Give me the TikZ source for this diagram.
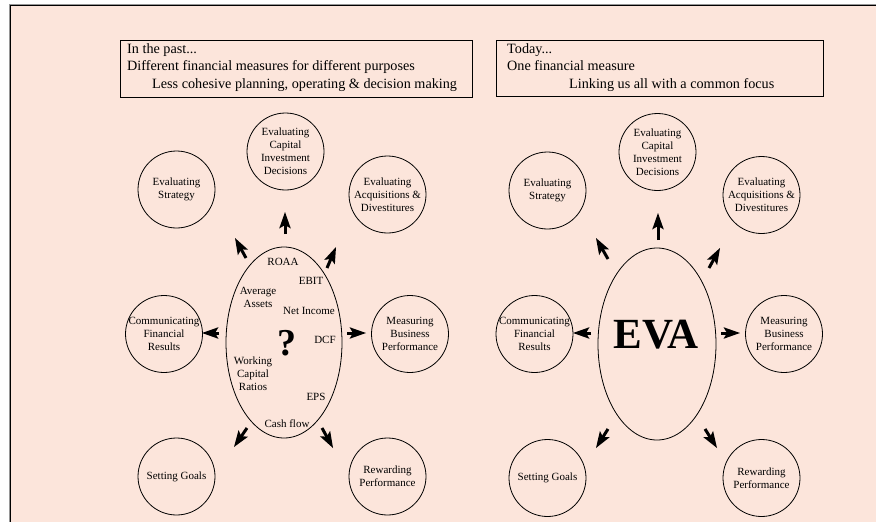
\documentclass[tikz,border=0pt]{standalone}
\usepackage{fontspec}
\setmainfont{Liberation Serif}
\usetikzlibrary{shapes.geometric,calc}
\definecolor{peach}{RGB}{252,229,219}
\definecolor{edgegrey}{RGB}{150,150,150}
\begin{document}
\begin{tikzpicture}[x=1pt,y=-1pt,
  circ/.style={circle,draw,line width=0.8pt,minimum size=77pt,inner sep=0pt},
  lbl/.style={align=center,font=\fontsize{11}{13}\selectfont,inner sep=0pt},
  oval/.style={ellipse,draw,line width=0.8pt,inner sep=0pt},
  hdr/.style={draw,line width=0.8pt,inner sep=0pt},
  hdrtext/.style={align=left,font=\fontsize{14.2}{17.8}\selectfont,inner sep=0pt,anchor=north west},
  shaft/.style={line width=3pt},
]
\useasboundingbox (0,0) rectangle (876,522);
\clip (0,0) rectangle (876,522);

% page frame
\draw[edgegrey,line width=1pt] (9,4) rectangle (900,540);
\fill[peach] (10,5) rectangle (900,540);
\draw[line width=1.2pt] (10.6,5.6) rectangle (900,540);

% ---------- left panel ----------
\draw[edgegrey,line width=1pt] (121.5,97.5) -- (472.5,97.5) -- (472.5,41);
\node[hdr,minimum width=352pt,minimum height=57pt] (pastbox) at (296,68.5) {};
\node[hdrtext] (pasttext) at (127,43)
  {In the past...\\Different financial measures for different purposes\\\hspace*{25pt}Less cohesive planning, operating \& decision making};

\node[oval,minimum width=116pt,minimum height=191pt] (pastoval) at (284,342.5) {};
\node[lbl] (roaa) at (283,262) {ROAA};
\node[lbl] (ebit) at (311,281) {EBIT};
\node[lbl] (avga) at (258,297) {Average\\Assets};
\node[lbl] (neti) at (309,311) {Net Income};
\node[inner sep=0pt,font=\fontsize{38}{38}\selectfont\bfseries] (qmark) at (287,343) {?};
\node[lbl] (dcf) at (325,340) {DCF};
\node[lbl] (wcr) at (253,374) {Working\\Capital\\Ratios};
\node[lbl] (eps) at (316,397) {EPS};
\node[lbl] (cashf) at (287,424) {Cash flow};

\node[circ,label={[lbl]center:Evaluating\\Strategy}] (lstrat) at (176.5,189.5) {};
\node[circ,label={[lbl]center:Evaluating\\Capital\\Investment\\Decisions}] (lcap) at (285.5,151.5) {};
\node[circ,label={[lbl]center:Evaluating\\Acquisitions \&\\Divestitures}] (lacq) at (387.5,194.5) {};
\node[circ,label={[lbl]center:Communicating\\Financial\\Results}] (lcomm) at (164,334) {};
\node[circ,label={[lbl]center:Measuring\\Business\\Performance}] (lmeas) at (410,334) {};
\node[circ,label={[lbl]center:Setting Goals}] (lgoal) at (176.5,476.5) {};
\node[circ,label={[lbl]center:Rewarding\\Performance}] (lrew) at (387.5,476.5) {};

\coordinate (la1) at (285,234); \coordinate (lb1) at (285,212);
\coordinate (la2) at (246,258); \coordinate (lb2) at (235,238);
\coordinate (la3) at (327,268); \coordinate (lb3) at (336,247);
\coordinate (la4) at (219,333); \coordinate (lb4) at (202,333);
\coordinate (la5) at (347,333); \coordinate (lb5) at (366,333);
\coordinate (la6) at (247,428); \coordinate (lb6) at (234,447);
\coordinate (la7) at (322,428); \coordinate (lb7) at (333,448);

% ---------- right panel ----------
\draw[edgegrey,line width=1pt] (497.5,96.5) -- (823.5,96.5) -- (823.5,41);
\node[hdr,minimum width=327pt,minimum height=56pt] (todaybox) at (659.5,68) {};
\node[hdrtext] (todaytext) at (507,43)
  {Today...\\One financial measure\\\hspace*{62pt}Linking us all with a common focus};

\node[oval,minimum width=118pt,minimum height=192pt] (evaoval) at (657,344) {};
\node[inner sep=0pt,font=\fontsize{43}{43}\selectfont\bfseries] (eva) at (656,335) {EVA};

\node[circ,label={[lbl]center:Evaluating\\Strategy}] (rstrat) at (547.5,190.5) {};
\node[circ,label={[lbl]center:Evaluating\\Capital\\Investment\\Decisions}] (rcap) at (657.5,152) {};
\node[circ,label={[lbl]center:Evaluating\\Acquisitions \&\\Divestitures}] (racq) at (761.5,195) {};
\node[circ,label={[lbl]center:Communicating\\Financial\\Results}] (rcomm) at (534.5,334) {};
\node[circ,label={[lbl]center:Measuring\\Business\\Performance}] (rmeas) at (784,334) {};
\node[circ,label={[lbl]center:Setting Goals}] (rgoal) at (547.5,478) {};
\node[circ,label={[lbl]center:Rewarding\\Performance}] (rrew) at (761.5,478) {};

\coordinate (ra1) at (658,240); \coordinate (rb1) at (658,213);
\coordinate (ra2) at (608,259); \coordinate (rb2) at (596,238);
\coordinate (ra3) at (709,268); \coordinate (rb3) at (720,248);
\coordinate (ra4) at (591,333); \coordinate (rb4) at (573,333);
\coordinate (ra5) at (721,333); \coordinate (rb5) at (740,333);
\coordinate (ra6) at (608,429); \coordinate (rb6) at (596,448);
\coordinate (ra7) at (705,429); \coordinate (rb7) at (717,448);

% short bold arrows: shaft plus a filled, notched head
\foreach \t/\h in {la1/lb1,la2/lb2,la3/lb3,la4/lb4,la5/lb5,la6/lb6,la7/lb7,
                   ra1/rb1,ra2/rb2,ra3/rb3,ra4/rb4,ra5/rb5,ra6/rb6,ra7/rb7}{
  \coordinate (headbase) at ($(\h)!16.5pt!(\t)$);
  \draw[shaft] (\t) -- ($(\h)!12pt!(\t)$);
  \fill (\h) -- ($(headbase)!5.8pt!90:(\h)$) -- ($(\h)!13pt!(\t)$)
        -- ($(headbase)!5.8pt!-90:(\h)$) -- cycle;
}
\end{tikzpicture}
\end{document}
